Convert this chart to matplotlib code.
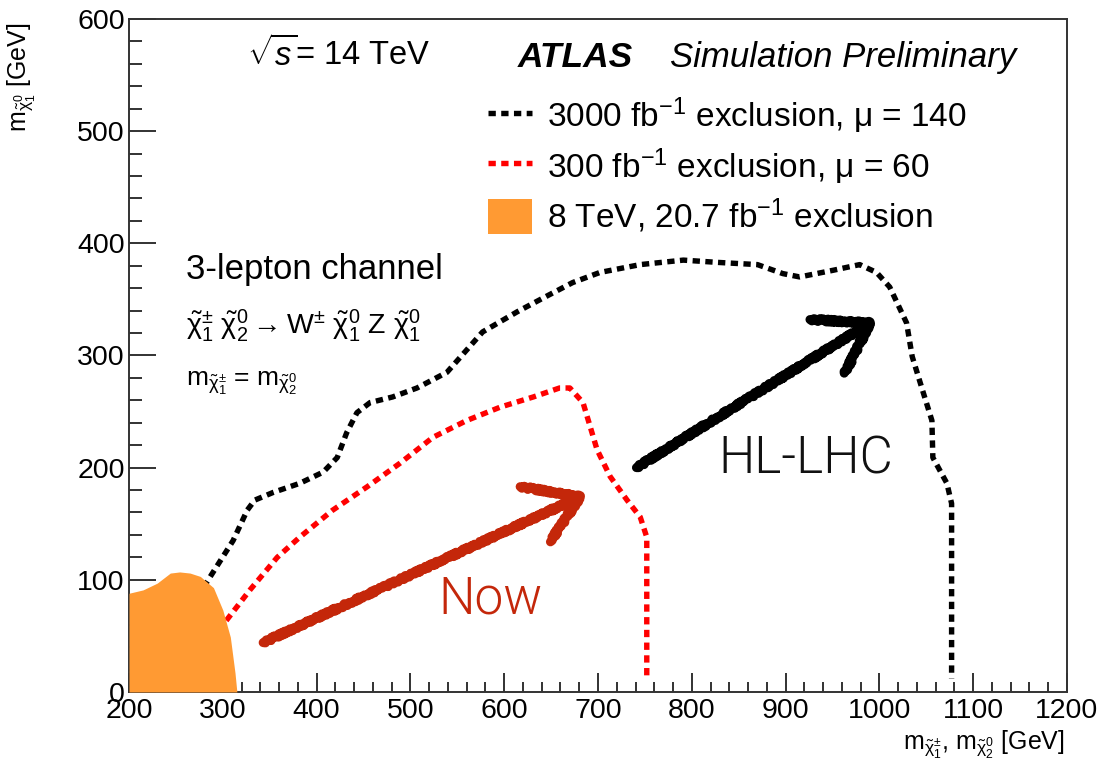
import matplotlib
matplotlib.use("Agg")
import matplotlib.pyplot as plt
from matplotlib.patches import Patch
from matplotlib.lines import Line2D
from matplotlib.ticker import MultipleLocator

plt.rcParams['font.family'] = ['Liberation Sans', 'DejaVu Sans']
plt.rcParams['mathtext.fontset'] = 'custom'
plt.rcParams['mathtext.rm'] = 'Liberation Sans'
plt.rcParams['mathtext.it'] = 'Liberation Sans:italic'
plt.rcParams['mathtext.bf'] = 'Liberation Sans:bold'

# 3000 fb^-1 expected exclusion contour (mu = 140)
hl_x = [270, 283, 311, 326, 334, 354, 382, 407, 422, 432, 443, 457, 481, 507, 539,
        577, 614, 641, 673, 702, 745, 791, 827, 870, 897, 915, 951, 979, 997, 1011,
        1029, 1035, 1046, 1056, 1057, 1072, 1077, 1077]
hl_y = [85, 98, 135, 162, 171, 178, 186, 196, 209, 231, 249, 258, 263, 271, 285,
        321, 339, 351, 365, 374, 381, 385, 383, 381, 373, 370, 376, 381, 374, 361,
        329, 299, 269, 242, 209, 186, 168, 12]

# 300 fb^-1 expected exclusion contour (mu = 60)
now_x = [295, 304, 329, 358, 382, 417, 454, 489, 524, 560, 596, 631, 659, 670,
         684, 699, 713, 731, 745, 752, 752]
now_y = [55, 64, 91, 120, 138, 162, 183, 204, 227, 242, 254, 263, 271, 271,
         258, 216, 192, 171, 156, 138, 10]

# 8 TeV, 20.7 fb^-1 observed exclusion
obs_x = [200, 215, 230, 244, 254, 265, 276, 290, 300, 308, 313, 315]
obs_y = [88, 91, 97, 106, 107, 106, 103, 93, 73, 49, 17, 0]

# hand-drawn arrows (shaft start, tip, two head strokes)
now_arrow_x = [343, 681]
now_arrow_y = [44, 174]
now_head_x = [617, 681, 649]
now_head_y = [183, 174, 134]
hl_arrow_x = [741, 990]
hl_arrow_y = [200, 329]
hl_head_x = [926, 990, 963]
hl_head_y = [332, 329, 284]

fig = plt.figure(figsize=(11.19, 7.74), dpi=100)
ax = fig.add_axes([0.1153, 0.106, 0.8382, 0.8695])

dot_style = dict(lw=3.9, dashes=(1.35, 1.0), dash_capstyle='butt', solid_capstyle='butt')
black_line, = ax.plot(hl_x, hl_y, color='black', zorder=3, **dot_style)
red_line, = ax.plot(now_x, now_y, color='#ff0000', zorder=3, **dot_style)
ax.fill_between(obs_x, obs_y, 0, color='#ff9a33', lw=0, zorder=4)

red_hand = '#c4270a'
for xs, ys, col in [(now_arrow_x, now_arrow_y, red_hand), (now_head_x, now_head_y, red_hand),
                    (hl_arrow_x, hl_arrow_y, 'black'), (hl_head_x, hl_head_y, 'black')]:
    ln, = ax.plot(xs, ys, color=col, lw=6.5, solid_capstyle='round',
                  solid_joinstyle='round', zorder=5)
    ln.set_sketch_params(scale=1.5, length=5, randomness=3)

hand_font = ['Roboto', 'Open Sans', 'Liberation Sans']
ax.text(585, 82, 'Now', color=red_hand, fontsize=37, family=hand_font,
        fontweight=300, ha='center', va='center', zorder=6)
ax.text(922, 207, 'HL-LHC', color='#111111', fontsize=37, family=hand_font,
        fontweight=300, ha='center', va='center', zorder=6)

ax.set_xlim(200, 1200)
ax.set_ylim(0, 600)
ax.xaxis.set_major_locator(MultipleLocator(100))
ax.xaxis.set_minor_locator(MultipleLocator(20))
ax.yaxis.set_major_locator(MultipleLocator(100))
ax.yaxis.set_minor_locator(MultipleLocator(20))
ax.tick_params(axis='both', which='both', direction='in', top=False, right=False,
               labelsize=20.5, width=1.3, color='#222222')
ax.tick_params(axis='x', which='major', length=13.7, pad=4)
ax.tick_params(axis='x', which='minor', length=7.2)
ax.tick_params(axis='y', which='major', length=19.4, pad=3)
ax.tick_params(axis='y', which='minor', length=9.4)
for s in ax.spines.values():
    s.set_linewidth(1.4)
    s.set_color('#333333')

ax.text(0.126, 0.946, r'$\sqrt{s}$= 14 TeV', transform=ax.transAxes, fontsize=23.5,
        ha='left', va='center')
ax.text(0.414, 0.942, 'ATLAS', transform=ax.transAxes, fontsize=25.5, fontweight='bold',
        style='italic', ha='left', va='center')
ax.text(0.577, 0.942, 'Simulation Preliminary', transform=ax.transAxes, fontsize=25,
        style='italic', ha='left', va='center')

handles = [Line2D([], [], color='black', **dot_style),
           Line2D([], [], color='#ff0000', **dot_style),
           Patch(facecolor='#ff9a33', edgecolor='none')]
labels = [r'3000 fb$^{\mathrm{-1}}$ exclusion, μ = 140',
          r'300 fb$^{\mathrm{-1}}$ exclusion, μ = 60',
          r'8 TeV, 20.7 fb$^{\mathrm{-1}}$ exclusion']
ax.legend(handles, labels, loc='upper left', bbox_to_anchor=(0.383, 0.886), frameon=False,
          fontsize=24, handlelength=1.3, handleheight=1.25, handletextpad=0.45,
          labelspacing=0.3, borderaxespad=0, borderpad=0)

ax.text(0.061, 0.627, '3-lepton channel', transform=ax.transAxes, fontsize=25,
        ha='left', va='center')
ax.text(0.061, 0.545,
        r'$\tilde{\mathrm{\chi}}^{\pm}_{1}\ \tilde{\mathrm{\chi}}^{0}_{2} \rightarrow '
        r'\mathrm{W}^{\pm}\ \tilde{\mathrm{\chi}}^{0}_{1}\ \mathrm{Z}\ \tilde{\mathrm{\chi}}^{0}_{1}$',
        transform=ax.transAxes, fontsize=20.5, ha='left', va='center')
ax.text(0.061, 0.459,
        r'$\mathrm{m}_{\tilde{\mathrm{\chi}}^{\pm}_{1}}$ = $\mathrm{m}_{\tilde{\mathrm{\chi}}^{0}_{2}}$',
        transform=ax.transAxes, fontsize=19, ha='left', va='center')

fig.text(0.02, 0.9, r'$\mathrm{m}_{\tilde{\mathrm{\chi}}^{0}_{1}}$ [GeV]', rotation=90,
         fontsize=18, ha='center', va='center')
fig.text(0.952, 0.0375,
         r'$\mathrm{m}_{\tilde{\mathrm{\chi}}^{\pm}_{1}}$, $\mathrm{m}_{\tilde{\mathrm{\chi}}^{0}_{2}}$ [GeV]',
         fontsize=18, ha='right', va='center')

fig.savefig('out.png', dpi=100)
